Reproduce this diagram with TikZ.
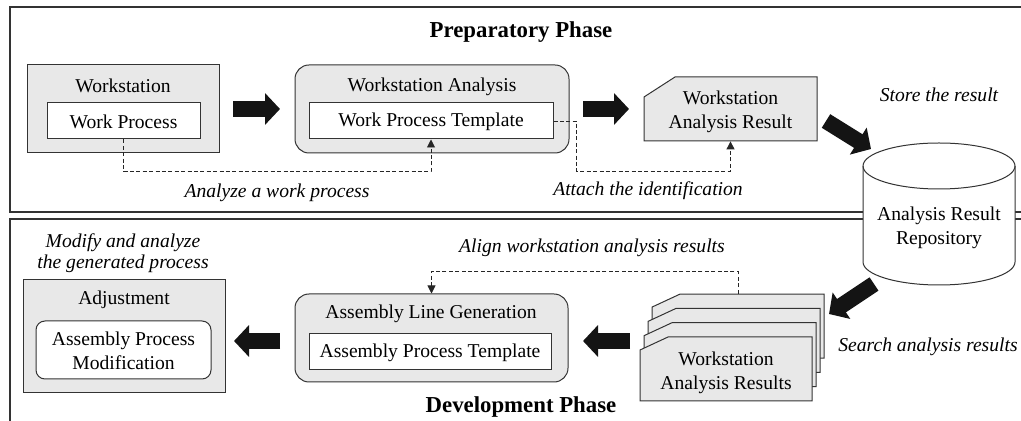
\documentclass[tikz,border=0pt]{standalone}
\usepackage{fontspec}
\setmainfont{Liberation Serif}
\usetikzlibrary{fit,arrows.meta}
\tikzset{
  panel/.style={draw=black!80, line width=0.8pt},
  graybox/.style={draw=black!80, fill=gray!18, line width=0.5pt, inner sep=0pt},
  whitebox/.style={draw=black!80, fill=white, line width=0.5pt, inner sep=0pt},
  rgraybox/.style={graybox, rounded corners=7pt},
  rwhitebox/.style={whitebox, rounded corners=4.5pt},
  hidden/.style={inner sep=0pt},
  dashconn/.style={draw=black!85, line width=0.45pt, dash pattern=on 2pt off 1.2pt, -{Triangle[length=4pt,width=4pt]}},
  blockarrow/.style={draw=black!92, line width=8pt, -{Triangle[length=7.5pt,width=15.5pt]}},
  txt/.style={inner sep=0pt, align=center},
  lbl/.style={inner sep=0pt, align=center, font=\fontsize{9.8}{10.5}\selectfont\itshape},
  phase/.style={inner sep=0pt, font=\fontsize{11.4}{13}\selectfont\bfseries},
}
\begin{document}
\begin{tikzpicture}[x=0.5pt, y=-0.5pt, font=\fontsize{9.8}{12}\selectfont]
\useasboundingbox[fill=white] (0,0) rectangle (1021,421);
\clip (0,0) rectangle (1021,421);

% panels
\draw[panel] (1040,7) -- (10,7) -- (10,212) -- (1040,212);
\draw[panel] (1040,219) -- (10,219) -- (10,440);
\node[phase] (prep) at (521,32) {Preparatory Phase};
\node[phase] (dev) at (521,407) {Development Phase};

% ---------- preparatory phase ----------
\node[graybox, fit={(27,65) (219,153)}] (ws) {};
\node[txt] (wst) at (123,86) {Workstation};
\node[whitebox, fit={(47,103) (200,139)}] (wp) {};
\node[txt] (wpx) at (123.5,122) {Work Process};

\node[rgraybox, fit={(295,65) (569,153)}] (wa) {};
\node[txt] (wat) at (432,87) {Workstation Analysis};
\node[whitebox, fit={(309,103) (553,139)}] (wpt) {};
\node[txt] (wptx) at (431,122) {Work Process Template};

\draw[graybox] (644,97) -- (675,77) -- (817,77) -- (817,141) -- (644,141) -- cycle;
\node[hidden, fit={(644,77) (817,141)}] (war) {};
\node[txt] (wart) at (730.5,112) {Workstation\\Analysis Result};

\coordinate (a1s) at (233,109); \coordinate (a1e) at (280,109);
\draw[blockarrow] (a1s) -- (a1e);
\coordinate (a2s) at (583,109); \coordinate (a2e) at (629,109);
\draw[blockarrow] (a2s) -- (a2e);
\coordinate (a3s) at (826,121); \coordinate (a3e) at (871,149);
\draw[blockarrow] (a3s) -- (a3e);

\draw[dashconn] (wp.south) -- ++(0,32) -| (wpt.south);
\node[lbl] (l1) at (277,193) {Analyze a work process};
\draw[dashconn] (wpt.east) -- ++(23,0) -- ++(0,50) -| (war.south);
\node[lbl] (l2) at (648,191) {Attach the identification};
\node[lbl] (l3) at (939,95) {Store the result};

% repository cylinder
\draw[draw=black!80, fill=white, line width=0.5pt]
  (863,166) -- (863,262)
  arc[start angle=180, end angle=360, x radius=38pt, y radius=11.5pt]
  -- (1015,166)
  arc[start angle=0, end angle=180, x radius=38pt, y radius=11.5pt] -- cycle;
\draw[draw=black!80, line width=0.5pt] (863,166)
  arc[start angle=180, end angle=360, x radius=38pt, y radius=11.5pt];
\node[txt] (repo) at (939,228) {Analysis Result\\Repository};

% ---------- development phase ----------
\node[lbl] (l4) at (123,253) {Modify and analyze\\the generated process};
\node[graybox, fit={(23,280) (225,393)}] (adj) {};
\node[txt] (adjt) at (124,300) {Adjustment};
\node[rwhitebox, fit={(36,321) (211,379)}] (apm) {};
\node[txt] (apmt) at (123.5,351) {Assembly Process\\Modification};

\node[rgraybox, fit={(295,294) (568,382)}] (alg) {};
\node[txt] (algt) at (431,314) {Assembly Line Generation};
\node[whitebox, fit={(309,334) (551,370)}] (apt) {};
\node[txt] (aptx) at (430,353) {Assembly Process Template};

% stack of results
\foreach \i in {3,2,1,0} {
  \draw[graybox] ({640+4*\i},{350-14.3*\i}) -- ({668+4*\i},{337-14.3*\i})
    -- ({812+4*\i},{337-14.3*\i}) -- ({812+4*\i},{401-14.3*\i})
    -- ({640+4*\i},{401-14.3*\i}) -- cycle;
}
\node[hidden, fit={(652,294) (824,358)}] (s4) {};
\node[txt] (stk) at (726,373) {Workstation\\Analysis Results};

\coordinate (a4s) at (280,341); \coordinate (a4e) at (234,341);
\draw[blockarrow] (a4s) -- (a4e);
\coordinate (a5s) at (630,341); \coordinate (a5e) at (583,341);
\draw[blockarrow] (a5s) -- (a5e);
\coordinate (a6s) at (874,284); \coordinate (a6e) at (829,314);
\draw[blockarrow] (a6s) -- (a6e);

\draw[dashconn] (s4.north) -- ++(0,-22) -| (alg.north);
\node[lbl] (l5) at (592,248) {Align workstation analysis results};
\node[lbl] (l6) at (928,347) {Search analysis results};
\end{tikzpicture}
\end{document}
